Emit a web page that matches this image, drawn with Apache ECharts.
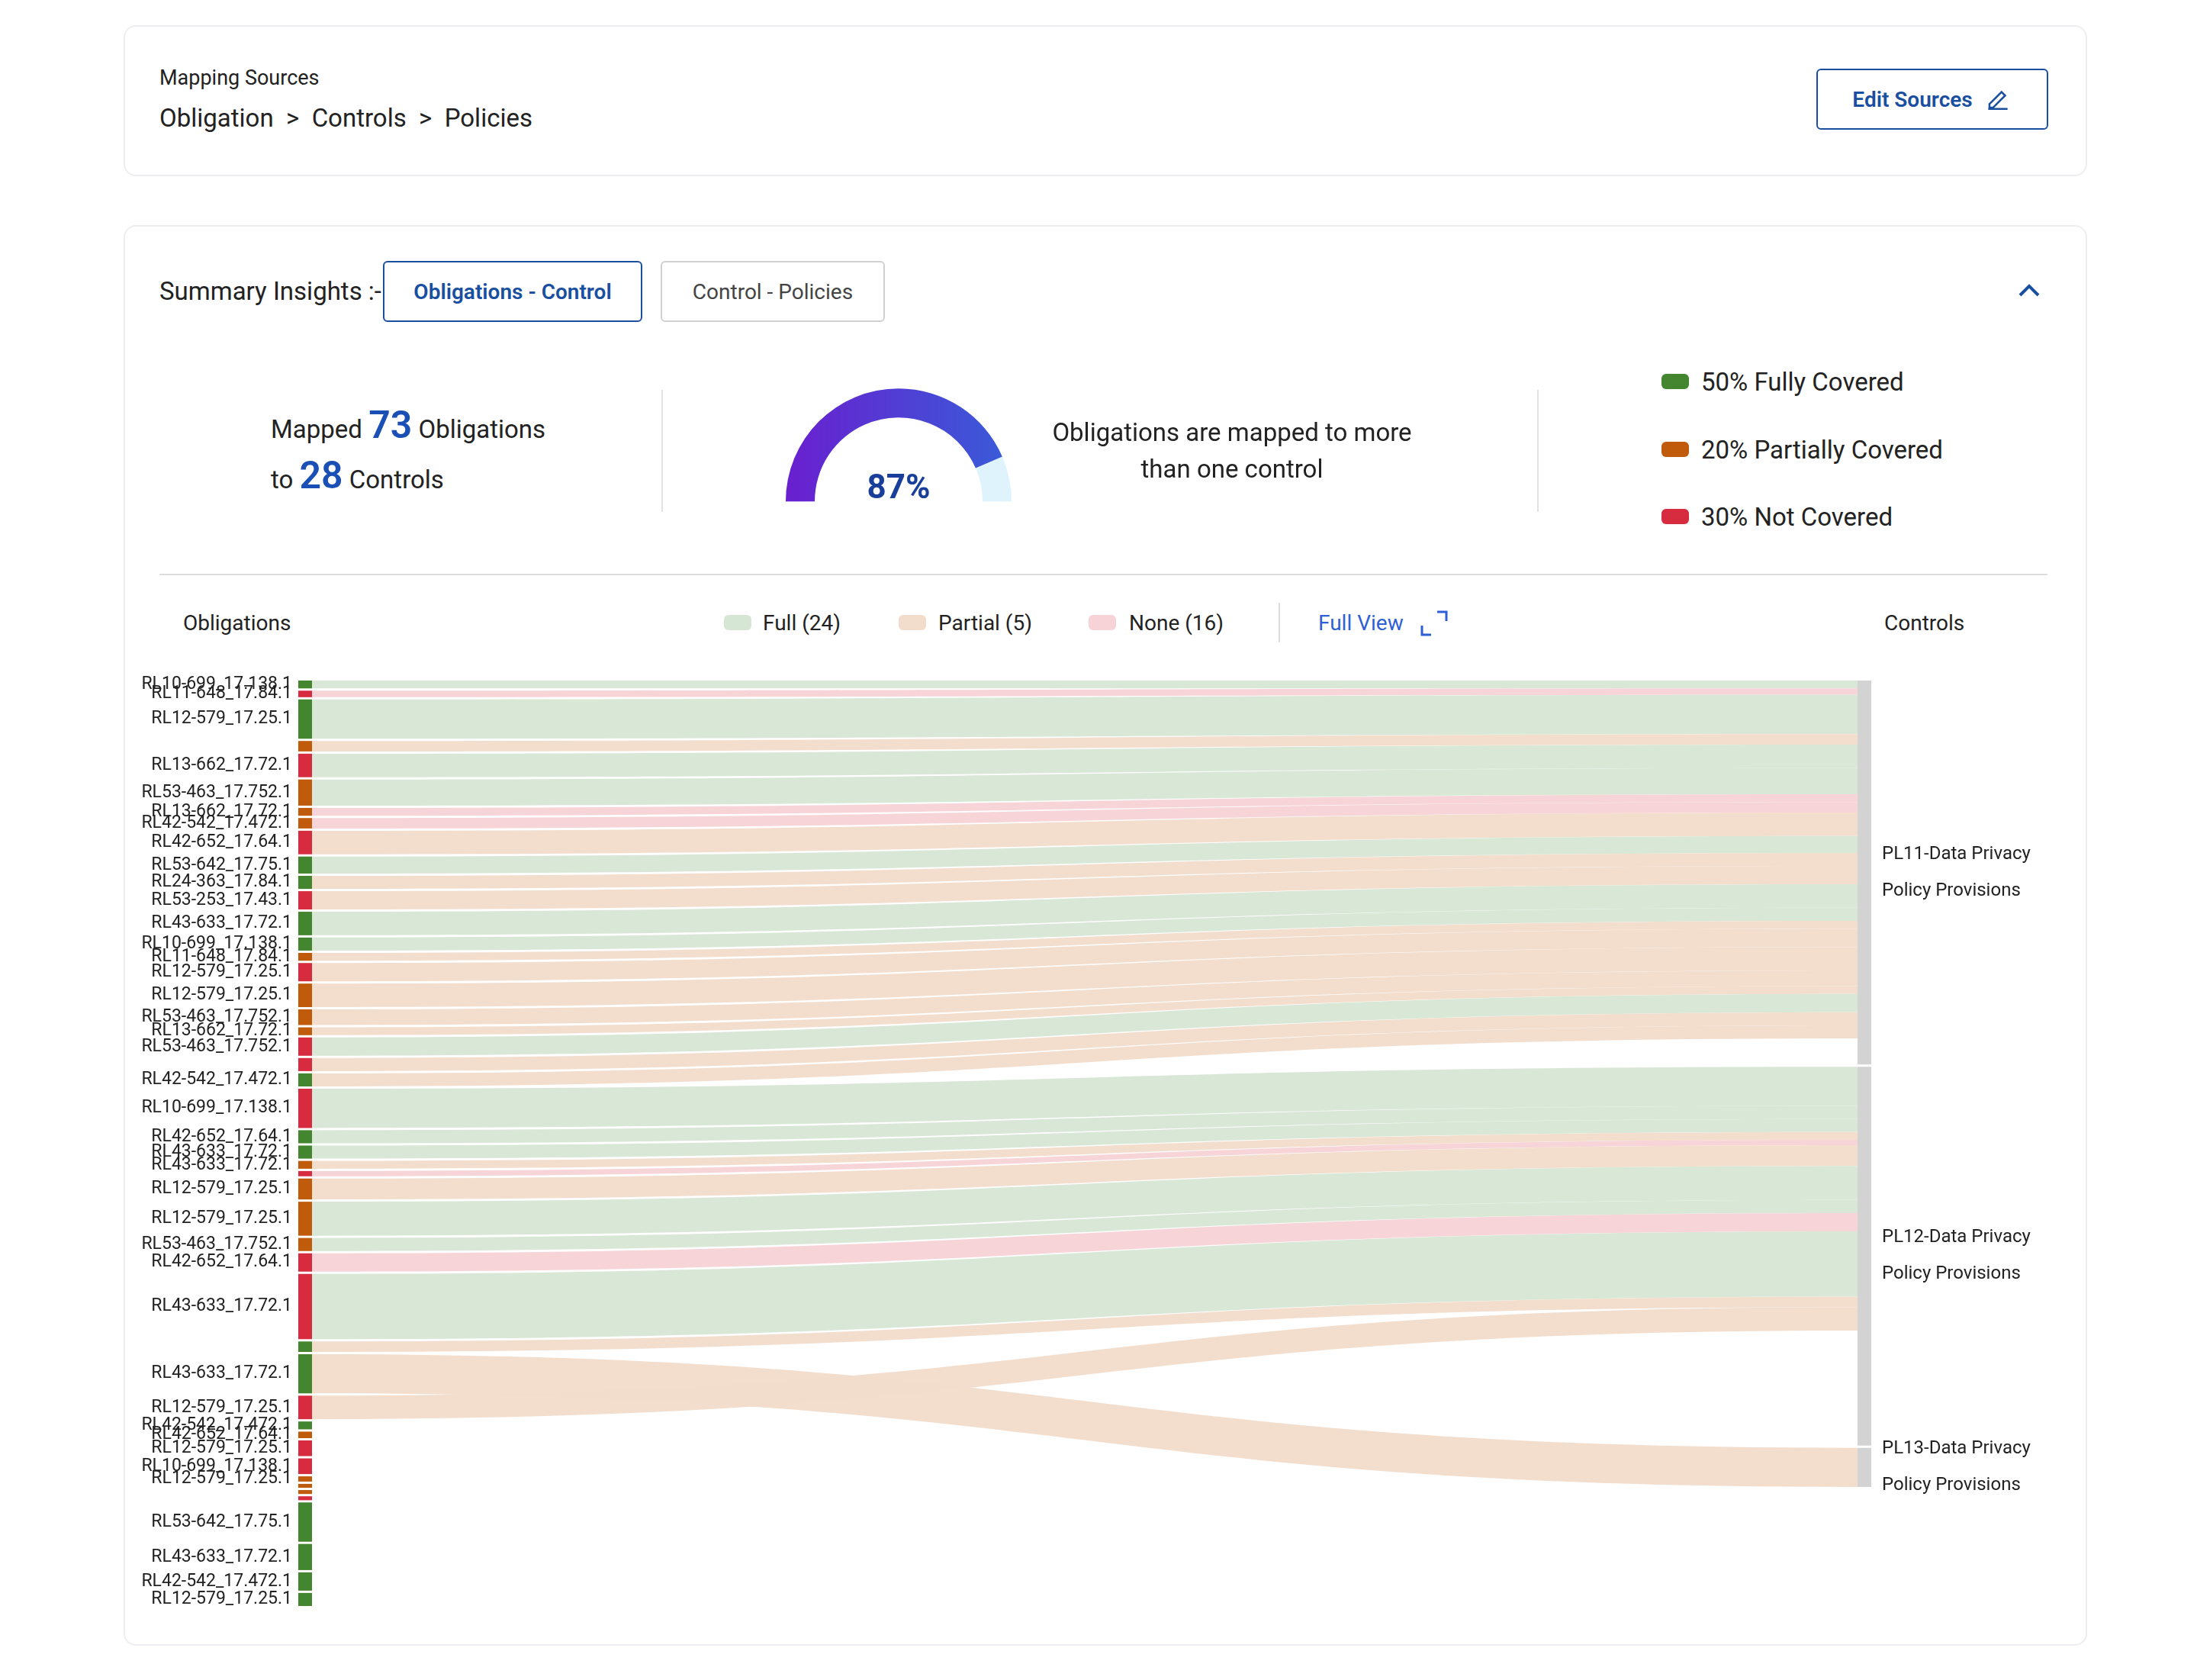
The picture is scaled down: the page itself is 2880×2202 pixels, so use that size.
<!DOCTYPE html>
<html><head><meta charset="utf-8">
<script src="https://cdn.jsdelivr.net/npm/echarts@6/dist/echarts.min.js"></script>
<style>
body{margin:0;background:#fff;font-family:Roboto,"Noto Sans",sans-serif;color:#222;}
.abs{position:absolute;}
.card{position:absolute;border:2px solid #eceef1;border-radius:16px;background:#fff;}
.btn{position:absolute;border-radius:6px;display:flex;align-items:center;justify-content:center;font-size:28px;box-sizing:border-box;}
.sw{position:absolute;width:36px;height:20px;border-radius:6px;}
.t33{font-size:33px;}
</style></head><body>
<div class="card" style="left:162px;top:33px;width:2570px;height:194px;"></div>
<div class="abs" style="left:209px;top:86px;font-size:27px;">Mapping Sources</div>
<div class="abs t33" style="left:209px;top:135px;">Obligation&nbsp; &gt; &nbsp;Controls&nbsp; &gt; &nbsp;Policies</div>
<div class="btn" style="left:2381px;top:90px;width:304px;height:80px;border:2px solid #1a4fa0;color:#1a4fa0;font-weight:600;">Edit Sources&nbsp;&nbsp;<svg width="38" height="38" viewBox="0 0 24 24"><path d="M4 20h16M5 16l10-10 3 3-10 10H5z" fill="none" stroke="#1a4fa0" stroke-width="1.6"/></svg></div>

<div class="card" style="left:162px;top:295px;width:2570px;height:1858px;"></div>
<div class="abs t33" style="left:209px;top:362px;">Summary Insights :-</div>
<div class="btn" style="left:502px;top:342px;width:340px;height:80px;border:2px solid #1a4fa0;color:#1a4fa0;font-weight:600;">Obligations - Control</div>
<div class="btn" style="left:866px;top:342px;width:294px;height:80px;border:2px solid #d0d0d0;color:#444;">Control - Policies</div>
<svg class="abs" style="left:2645px;top:370px" width="30" height="22" viewBox="0 0 30 22"><path d="M3 17L15 5l12 12" fill="none" stroke="#1a4fa0" stroke-width="4"/></svg>

<div class="abs t33" style="left:355px;top:528px;">Mapped <span style="font-size:50px;color:#1a4fb5;font-weight:600;">73</span> Obligations</div>
<div class="abs t33" style="left:355px;top:594px;">to <span style="font-size:50px;color:#1a4fb5;font-weight:600;">28</span> Controls</div>
<div class="abs" style="left:867px;top:511px;width:2px;height:160px;background:#e2e2e2;"></div>
<div class="abs" style="left:2015px;top:511px;width:2px;height:160px;background:#e2e2e2;"></div>
<div id="gauge" class="abs" style="left:978px;top:470px;width:400px;height:240px;"></div>
<div class="abs t33" style="left:1315px;top:543px;width:600px;text-align:center;line-height:48px;">Obligations are mapped to more<br>than one control</div>
<div class="sw" style="left:2178px;top:490px;background:#43862f"></div><div class="abs t33" style="left:2230px;top:481px;">50% Fully Covered</div>
<div class="sw" style="left:2178px;top:579px;background:#bf5b0a"></div><div class="abs t33" style="left:2230px;top:570px;">20% Partially Covered</div>
<div class="sw" style="left:2178px;top:667px;background:#d72b3f"></div><div class="abs t33" style="left:2230px;top:658px;">30% Not Covered</div>
<div class="abs" style="left:209px;top:752px;width:2475px;height:2px;background:#dcdcdc;"></div>

<div class="abs" style="left:240px;top:800px;font-size:28px;">Obligations</div>
<div class="sw" style="left:949px;top:806px;background:#d6e6d4"></div><div class="abs" style="left:1000px;top:800px;font-size:28px;">Full (24)</div>
<div class="sw" style="left:1178px;top:806px;background:#f2dccb"></div><div class="abs" style="left:1230px;top:800px;font-size:28px;">Partial (5)</div>
<div class="sw" style="left:1427px;top:806px;background:#f7d2d6"></div><div class="abs" style="left:1480px;top:800px;font-size:28px;">None (16)</div>
<div class="abs" style="left:1676px;top:790px;width:2px;height:52px;background:#dcdcdc;"></div>
<div class="abs" style="left:1728px;top:800px;font-size:28px;color:#2f5fd6;">Full View</div>
<svg class="abs" style="left:1862px;top:800px" width="36" height="34" viewBox="0 0 36 34"><path d="M2 20v12h12M22 2h12v12" fill="none" stroke="#2f5fd6" stroke-width="3"/></svg>
<div class="abs" style="left:2470px;top:800px;font-size:28px;">Controls</div>
<div id="sankey" class="abs" style="left:0;top:860px;width:2880px;height:1290px;"></div>
<script>
var oblNames = ['RL10-699_17.138.1','RL11-648_17.84.1','RL12-579_17.25.1','','RL13-662_17.72.1','RL53-463_17.752.1','RL13-662_17.72.1','RL42-542_17.472.1','RL42-652_17.64.1','RL53-642_17.75.1','RL24-363_17.84.1','RL53-253_17.43.1','RL43-633_17.72.1','RL10-699_17.138.1','RL11-648_17.84.1','RL12-579_17.25.1','RL12-579_17.25.1','RL53-463_17.752.1','RL13-662_17.72.1','RL53-463_17.752.1','','RL42-542_17.472.1',
  'RL10-699_17.138.1','RL42-652_17.64.1','RL43-633_17.72.1','RL43-633_17.72.1','','RL12-579_17.25.1','RL12-579_17.25.1','RL53-463_17.752.1','RL42-652_17.64.1','RL43-633_17.72.1','','RL43-633_17.72.1','RL12-579_17.25.1',
  'RL42-542_17.472.1','RL42-652_17.64.1','RL12-579_17.25.1','RL10-699_17.138.1','RL12-579_17.25.1','','','','RL53-642_17.75.1','RL43-633_17.72.1','RL42-542_17.472.1','RL12-579_17.25.1'];
var oblStatus = ['G','R','G','O','R','O','O','O','R','G','G','R','G','G','O','R','O','O','O','R','R','G',
  'R','G','G','O','R','O','O','O','R','R','G','G','R',
  'G','O','R','R','O','O','O','R','G','G','G','G'];
var oblValues = [6,5,30,8,18,20,6,8,18,13,10,14,18,10,6,14,18,12,6,14,10,10,
  30,10,10,6,4,16,26,10,14,50,8,30,18,
  6,5,12,12,4,3,3,3,30,20,14,10];
var oblTarget = ['PL11','PL11','PL11','PL11','PL11','PL11','PL11','PL11','PL11','PL11','PL11','PL11','PL11','PL11','PL11','PL11','PL11','PL11','PL11','PL11','PL11','PL11',
  'PL12','PL12','PL12','PL12','PL12','PL12','PL12','PL12','PL12','PL12','PL12','PL13','PL12',
  '','','','','','','','','','','',''];
var linkType = ['full','none','full','partial','full','full','none','none','partial','full','partial','partial','full','full','partial','partial','partial','partial','partial','full','partial','partial',
  'full','full','full','partial','none','partial','full','full','none','full','partial','partial','partial',
  '','','','','','','','','','','',''];
var controls = ['PL11','PL12','PL13'];
var controlValues = [294, 290, 30];
var controlLabels = ['PL11-Data Privacy\nPolicy Provisions','PL12-Data Privacy\nPolicy Provisions','PL13-Data Privacy\nPolicy Provisions'];

var statusColor = {G:'#43862f', O:'#bf5b0a', R:'#d72b3f'};
var typeColor = {full:'#d6e6d4', partial:'#f2dccb', none:'#f7d2d6'};
var nodes = [], links = [];
oblNames.forEach(function(n, i){
  nodes.push({name:'o'+i, value:oblValues[i], depth:0, itemStyle:{color:statusColor[oblStatus[i]]},
    label:{formatter:n}});
  if (oblTarget[i]) links.push({source:'o'+i, target:oblTarget[i], value:oblValues[i], lineStyle:{color:typeColor[linkType[i]]}});
});
controls.forEach(function(c, i){
  nodes.push({name:c, value:controlValues[i], depth:1, itemStyle:{color:'#d3d3d3'},
    label:{position:'right', formatter:controlLabels[i], lineHeight:48, fontSize:24, color:'#222', distance:14}});
});

echarts.init(document.getElementById('sankey')).setOption({
  series:[{
    type:'sankey', left:391, right:427, top:32, bottom:45,
    nodeWidth:18, nodeGap:3, layoutIterations:0, draggable:false,
    emphasis:{disabled:true},
    data:nodes, links:links,
    label:{position:'left', fontSize:23, color:'#222', distance:8, fontFamily:'Roboto'},
    lineStyle:{curveness:0.5, opacity:0.95}
  }]
});

var gaugeValue = [87];
echarts.init(document.getElementById('gauge')).setOption({
  series:[{
    type:'gauge', center:['50%','78%'], radius:148, startAngle:180, endAngle:0, min:0, max:100,
    progress:{show:true, width:38, itemStyle:{color:new echarts.graphic.LinearGradient(0,0,1,0,[{offset:0,color:'#6a1fcf'},{offset:1,color:'#3a5ad8'}])}},
    axisLine:{lineStyle:{width:38, color:[[1,'#dff3fc']]}},
    pointer:{show:false}, axisTick:{show:false}, splitLine:{show:false}, axisLabel:{show:false},
    title:{show:false},
    detail:{offsetCenter:[0,'-10%'], fontSize:44, fontWeight:'bold', color:'#1a3f9a', formatter:'{value}%', fontFamily:'Roboto'},
    data:[{value:gaugeValue[0]}]
  }]
});
</script>
</body></html>
